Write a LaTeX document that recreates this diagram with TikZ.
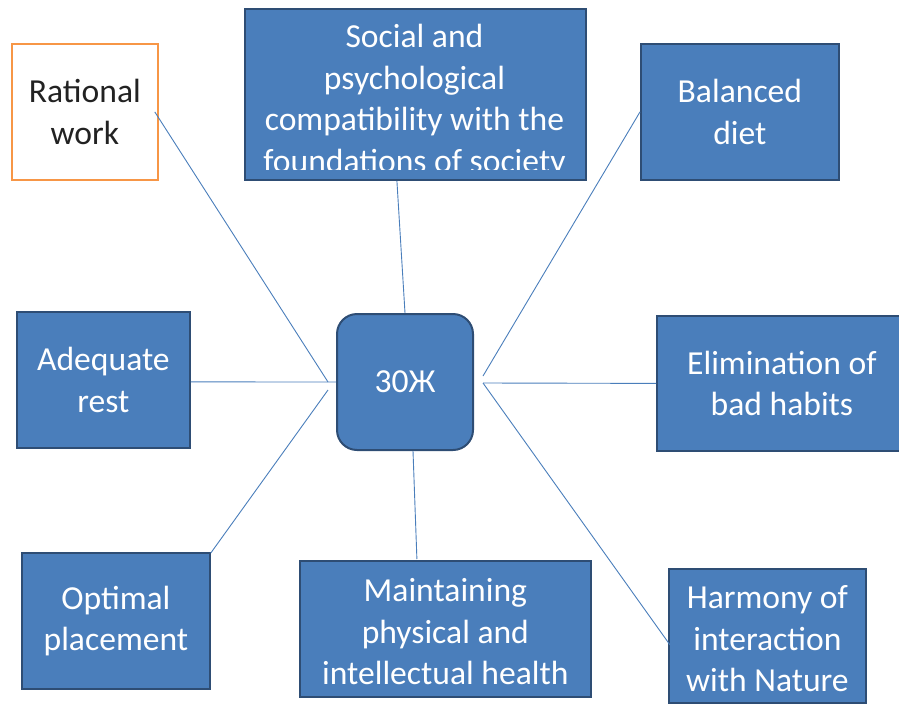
\documentclass[tikz,border=0pt]{standalone}
\usepackage{fontspec}
\setmainfont{Carlito}
\usetikzlibrary{calc}
\definecolor{boxfill}{HTML}{4A7EBB}
\definecolor{boxedge}{HTML}{2E4D74}
\definecolor{linkcol}{HTML}{4A7EBB}
\definecolor{orangeedge}{HTML}{F79646}
\definecolor{darktext}{HTML}{222222}
\begin{document}
\begin{tikzpicture}[x=1pt,y=-1pt,
  box/.style={draw=boxedge, line width=1.8pt, fill=boxfill, text=white,
    anchor=north west, inner sep=0pt, align=center},
  plain/.style={draw=orangeedge, line width=1.8pt, fill=white, text=darktext,
    anchor=north west, inner sep=0pt, align=center},
  label/.style={text=white, align=center, inner sep=0pt},
  link/.style={draw=linkcol, line width=0.9pt},
  every node/.style={font=\fontsize{33.6}{41.5}\selectfont}]
\useasboundingbox (0,0) rectangle (899,704);
\clip (0,0) rectangle (899,704);

% outer boxes
\node[plain, minimum width=146pt, minimum height=136pt] (rat) at (11,43)
  {Rational\\work};
\node[box, minimum width=341pt, minimum height=171pt] (soc) at (244,8) {};
\begin{scope}
  \clip (246,10) rectangle (583,169);
  \node[label, anchor=north] (soctext) at (414.5,24)
    {Social and\\psychological\\compatibility with the\\foundations of society};
\end{scope}
\node[box, minimum width=198pt, minimum height=136pt] (bal) at (640,43)
  {Balanced\\diet};
\node[box, minimum width=173pt, minimum height=136pt] (adq) at (16,311)
  {Adequate\\rest};
\node[box, minimum width=250pt, minimum height=135pt] (elim) at (656,315)
  {Elimination of\\bad habits};
\node[box, minimum width=188pt, minimum height=136pt] (opt) at (21,552)
  {Optimal\\placement};
\node[box, minimum width=291pt, minimum height=136pt] (mnt) at (299,560) {};
\node[label] (mnttext) at ($(mnt.center)+(0,3)$)
  {Maintaining\\physical and\\intellectual health};
\node[box, minimum width=197pt, minimum height=134pt] (har) at (668,568) {};
\node[label] (hartext) at ($(har.center)+(0,3)$)
  {Harmony of\\interaction\\with Nature};

% central node
\node[box, rounded corners=20pt, minimum width=136pt, minimum height=136pt,
  line width=2pt] (hub) at (336,313) {30Ж};

% connectors
\draw[link] ($(rat.east)+(-4,0)$) -- ($(hub.west)+(-8,0)$);
\draw[link] ($(soc.south)+(-18.5,0)$) -- (hub.north);
\draw[link] (bal.west) -- ($(hub.east)+(9,-6)$);
\draw[link] ($(adq.east)+(0,2)$) -- ($(hub.west)+(0,0)$);
\draw[link] ($(hub.east)+(9,1)$) -- (elim.west);
\draw[link] ($(opt.north east)+(0,1)$) -- ($(hub.west)+(-8,8)$);
\draw[link] ($(hub.south)+(8,0)$) -- ($(mnt.north)+(-28.5,-1)$);
\draw[link] ($(hub.east)+(9,1)$) -- ($(har.west)+(2,9)$);
\end{tikzpicture}
\end{document}
